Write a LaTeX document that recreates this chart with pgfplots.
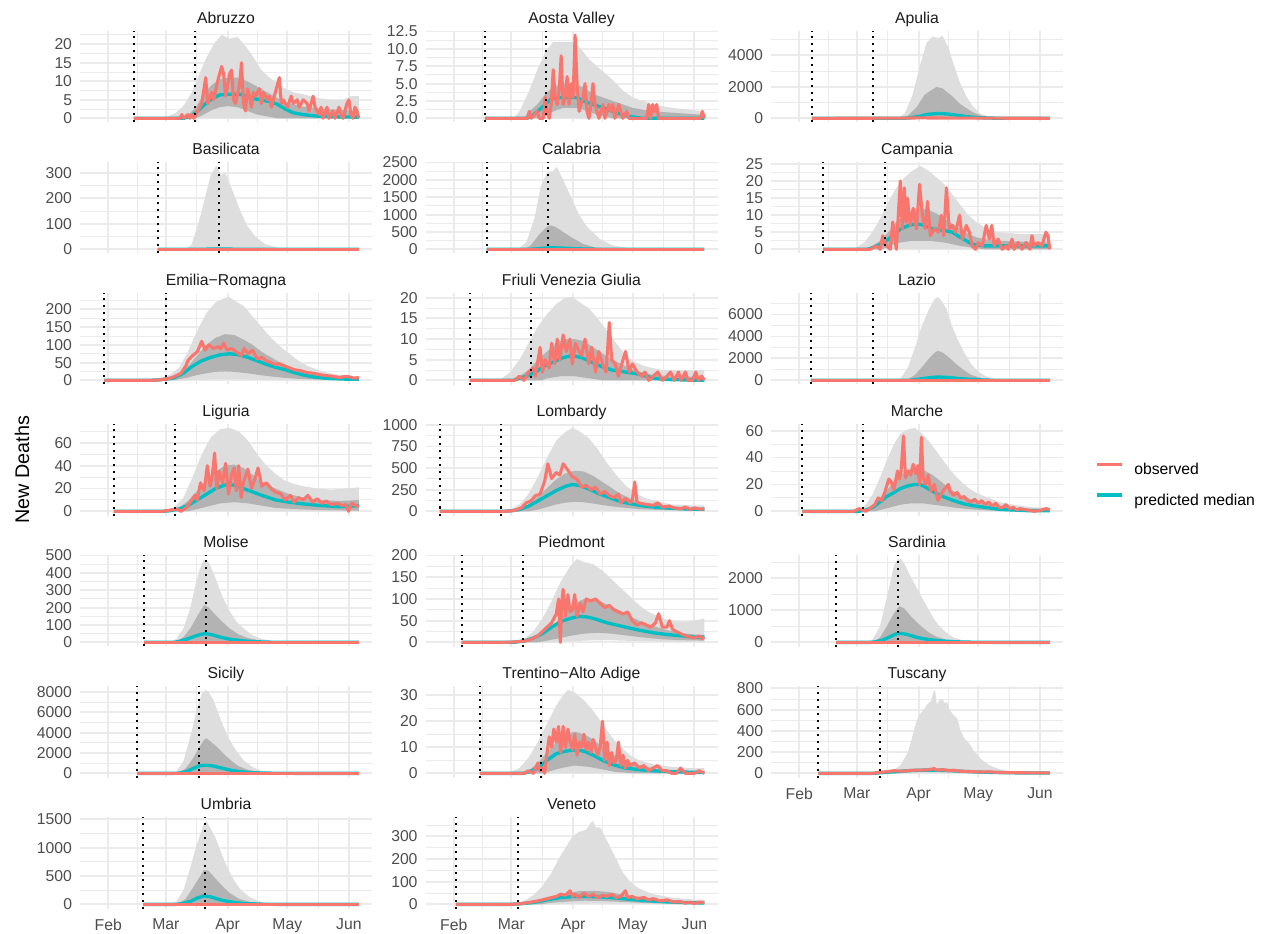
\documentclass[border=0pt]{standalone}
\usepackage{fontspec}
\setmainfont{Liberation Sans}
\usepackage{pgfplots}
\pgfplotsset{compat=1.18}
\usepgfplotslibrary{fillbetween}
\definecolor{obsc}{HTML}{F8766D}
\definecolor{medc}{HTML}{00BFC4}
\definecolor{lightb}{HTML}{DEDEDE}
\definecolor{darkb}{HTML}{B3B3B3}
\definecolor{gridc}{HTML}{EBEBEB}
\definecolor{tickc}{HTML}{4D4D4D}
\definecolor{stripc}{HTML}{1A1A1A}
\newcommand{\tf}{\fontsize{11.8}{14}\selectfont}
\tikzset{
 obsl/.style={color=obsc,line width=2.3pt,line join=round},
 medl/.style={color=medc,line width=2.5pt,line join=round},
 dotl/.style={black,line width=1.5pt,dash pattern=on 1.5pt off 3.75pt},
}
\pgfplotsset{
 every axis title shift=0pt,
 panel/.style={
  scale only axis, width=219pt, height=68.775pt,
  xmin=-14.2, xmax=132.6,
  axis line style={draw=none}, major tick length=0pt, minor tick length=0pt,
  tick style={draw=none},
  xtick={0,29,60,90,121}, minor xtick={14.5,44.5,75,105.5}, xticklabels={},
  grid=both, major grid style={line width=1.4pt,gridc}, minor grid style={line width=0.7pt,gridc},
  yticklabel style={font=\tf,text=tickc,anchor=east,inner sep=0pt,xshift=-5.8pt},
  xticklabel style={font=\tf,text=tickc,anchor=north,inner sep=0pt,yshift=-7.6pt},
  title style={font=\tf,text=stripc,at={(0.5,1)},anchor=base,yshift=5.8pt,inner sep=0pt},
  anchor=north west, clip=true,
 },
 xlab/.style={xticklabels={Feb,Mar,Apr,May,Jun}},
}
\newcommand{\LB}[2]{%
 \addplot[name path=lu,draw=none,forget plot] coordinates {#1};
 \addplot[name path=ll,draw=none,forget plot] coordinates {#2};
 \addplot[fill=lightb,draw=none,forget plot] fill between[of=lu and ll];}
\newcommand{\DB}[2]{%
 \addplot[name path=du,draw=none,forget plot] coordinates {#1};
 \addplot[name path=dl,draw=none,forget plot] coordinates {#2};
 \addplot[fill=darkb,draw=none,forget plot] fill between[of=du and dl];}
\newcommand{\VL}[4]{%
 \addplot[dotl,forget plot] coordinates {(#1,#3)(#1,#4)};
 \addplot[dotl,forget plot] coordinates {(#2,#3)(#2,#4)};}
\newcommand{\MED}[1]{\addplot[medl,forget plot] coordinates {#1};}
\newcommand{\OBS}[1]{\addplot[obsl,forget plot] coordinates {#1};}
\begin{document}
\begin{tikzpicture}
\path (0,0) rectangle (948.75pt,-700.5pt);
% ---------------- Row 1
\begin{axis}[panel, at={(60pt,-23.1pt)}, title={Abruzzo}, ymin=-1.125, ymax=23.625,
 ytick={0,5,10,15,20}, yticklabels={0,5,10,15,20}, minor ytick={2.5,7.5,12.5,17.5,22.5}]
\LB{(12.9,0)(25,0)(30,0.5)(34,1.5)(38,3.5)(42,7)(45,11)(49,16)(53,20)(57,22.5)(61,21.5)(65,22)(69,19.5)(73,16.5)(77,13)(81,11)(85,9.5)(89,8)(93,7)(98,6.5)(105,5.5)(112,5)(118,5)(122,6)(126,6)}{(12.9,0)(126,0)}
\DB{(12.9,0)(36,0)(40,0.8)(44,3)(48,6.5)(52,9)(56,10.5)(60,11)(65,11)(70,10)(75,8.5)(80,7)(85,5.5)(90,4.2)(95,3.5)(100,3)(110,2.5)(126,2)}{(12.9,0)(44,0)(48,1)(52,2.2)(56,3)(60,3.3)(65,3)(70,2)(75,1)(80,0.5)(85,0)(126,0)}
\MED{(12.9,0)(38,0)(41,0.5)(44,1.5)(47,3)(50,4.5)(53,5.5)(56,6.3)(60,6.5)(66,6.5)(70,6)(73,5.3)(77,5)(81,4.5)(85,3.8)(89,2.5)(93,1.5)(98,1)(105,0.6)(115,0.4)(126,0.3)}
\OBS{(12.9,0)(36,0)(37,1)(38,0)(40,1)(41,0)(42,1)(43,0)(45,2)(47,4)(49,11)(50,4)(52,7)(53,5)(55,10)(57,14)(58,12)(59,6)(61,12)(62,13)(63,5)(64,4)(66,9)(67,15)(68,4)(69,2)(70,8)(71,6)(72,3)(73,7)(74,6)(76,8)(77,4)(78,7)(80,5)(81,6)(82,3)(84,7)(86,11)(87,4)(88,5)(90,3)(92,6)(93,4)(95,5)(96,3)(98,5)(100,4)(101,2)(103,6)(104,3)(106,1)(107,3)(108,0)(110,3)(111,0)(113,2)(114,0)(116,3)(117,1)(118,0)(120,4)(121,5)(122,1)(123,0)(124,3)(125,2)(126,0)}
\VL{12.9}{43.6}{-1.125}{23.625}
\end{axis}
\begin{axis}[panel, at={(319.125pt,-23.1pt)}, title={Aosta Valley}, ymin=-0.6, ymax=12.6,
 ytick={0,2.5,5,7.5,10,12.5}, yticklabels={0.0,2.5,5.0,7.5,10.0,12.5}, minor ytick={1.25,3.75,6.25,8.75,11.25}]
\LB{(15.6,0)(30,0)(33,1)(38,4)(42,7)(46,9.5)(50,11)(55,11)(60,11)(64,10)(68,8.5)(72,7.5)(76,6.5)(80,5.5)(85,4)(90,3)(95,2.5)(100,2)(110,1.5)(126,1)}{(15.6,0)(126,0)}
\DB{(15.6,0)(35,0)(38,1)(42,2)(46,3.5)(50,4.5)(55,5)(60,5)(65,4.5)(70,3.5)(75,3)(80,2.5)(90,1.5)(100,1)(126,0.5)}{(15.6,0)(44,0)(47,0.5)(50,1)(55,1.5)(62,1.5)(68,1)(72,0.5)(80,0)(126,0)}
\MED{(15.6,0)(37,0)(40,0.5)(43,1.2)(46,2)(49,2.8)(52,3)(62,3)(65,2.5)(70,2)(75,1.5)(80,1)(85,0.5)(90,0.2)(95,0)(126,0)}
\OBS{(15.6,0)(37,0)(38,1)(39,0)(42,1)(43,0)(45,0)(46,3)(47,1)(48,0)(49,2)(50,7)(51,3)(52,2)(53,4)(54,9)(55,2)(56,3)(57,6)(58,2)(59,5)(60,3)(61,12)(62,5)(63,1)(64,2)(65,3)(66,5)(67,1)(68,0)(69,2)(70,5)(71,2)(72,1)(73,0)(75,2)(76,0)(78,2)(79,1)(80,2)(81,0)(83,2)(84,1)(85,0)(87,1)(88,0)(97,0)(98,2)(99,0)(100,2)(101,1)(102,2)(103,0)(124,0)(125,1)(126,0)}
\VL{15.6}{46.4}{-0.6}{12.6}
\end{axis}
\begin{axis}[panel, at={(578.25pt,-23.1pt)}, title={Apulia}, ymin=-265, ymax=5565,
 ytick={0,2000,4000}, yticklabels={0,2000,4000}, minor ytick={1000,3000,5000}]
\LB{(6.3,0)(49,0)(53,300)(57,1500)(61,3500)(64,4800)(67,5200)(70,5100)(72,5250)(75,4500)(78,3300)(81,2200)(84,1400)(87,800)(91,300)(96,100)(101,0)(126,0)}{(6.3,0)(126,0)}
\DB{(6.3,0)(52,0)(54,100)(59,700)(63,1500)(69,2000)(72,1900)(77,1400)(81,900)(87,400)(93,100)(99,0)(126,0)}{(6.3,0)(60,0)(68,80)(76,50)(90,0)(126,0)}
\MED{(6.3,0)(50,0)(55,20)(60,120)(65,260)(70,310)(75,270)(80,180)(85,100)(90,40)(100,5)(126,0)}
\OBS{(6.3,0)(50,10)(60,25)(70,20)(90,10)(126,2)}
\VL{6.3}{37.3}{-265}{5565}
\end{axis}
% ---------------- Row 2
\begin{axis}[panel, at={(60pt,-121.35pt)}, title={Basilicata}, ymin=-16.35, ymax=343.35,
 ytick={0,100,200,300}, yticklabels={0,100,200,300}, minor ytick={50,150,250}]
\LB{(24.8,0)(39,0)(42,20)(46,120)(49.5,230)(51.5,290)(53.6,320)(54.6,327)(56.7,290)(58.8,300)(61,260)(64,200)(67,140)(70,90)(74,50)(79,20)(85.6,5)(94,0)(126,0)}{(24.8,0)(126,0)}
\DB{(24.8,0)(45,0)(50,3)(55,8)(60,6)(70,2)(80,0)(126,0)}{(24.8,0)(126,0)}
\MED{(24.8,0)(45,0)(52,1)(58,1)(70,0)(126,0)}
\OBS{(24.8,0)(126,0)}
\VL{24.8}{55.8}{-16.35}{343.35}
\end{axis}
\begin{axis}[panel, at={(319.125pt,-121.35pt)}, title={Calabria}, ymin=-120, ymax=2520,
 ytick={0,500,1000,1500,2000,2500}, yticklabels={0,500,1000,1500,2000,2500}, minor ytick={250,750,1250,1750,2250}]
\LB{(16.5,0)(32,0)(36.5,200)(40.6,900)(43.7,1800)(46.8,2200)(49.8,2250)(51.8,2380)(55,2000)(59,1500)(63,1000)(67,650)(73.4,300)(79.6,120)(87.8,30)(93.5,10)(100,0)(126,0)}{(16.5,0)(126,0)}
\DB{(16.5,0)(35,0)(38.5,100)(42.6,400)(46.8,650)(49,690)(51,650)(55,500)(59,350)(65.2,150)(71.4,50)(80,10)(90,0)(126,0)}{(16.5,0)(126,0)}
\MED{(16.5,0)(38,0)(42,15)(46,35)(50,45)(55,35)(62,15)(70,5)(80,0)(126,0)}
\OBS{(16.5,0)(126,0)}
\VL{16.5}{47.3}{-120}{2520}
\end{axis}
\begin{axis}[panel, at={(578.25pt,-121.35pt)}, title={Campania}, ymin=-1.22, ymax=25.62,
 ytick={0,5,10,15,20,25}, yticklabels={0,5,10,15,20,25}, minor ytick={2.5,7.5,12.5,17.5,22.5}]
\LB{(12,0)(25,0)(28.6,0.5)(32.7,2)(36.7,5)(40.7,9)(44.8,14)(48.8,18)(52.8,21)(56.9,23)(60.9,24.4)(65,23)(69,21)(73,19)(77,16)(81,13)(85,10)(89,8)(93,6.5)(97,5.5)(101,5)(111,4.5)(126,4.5)}{(12,0)(126,0)}
\DB{(12,0)(33,0)(36.7,1)(40.7,2.5)(44.8,5)(48.8,8)(52.8,10)(56.9,11.5)(60.9,12)(65,11.5)(69,10.5)(73,9)(77,7.5)(81,6)(85,4.5)(89,3.5)(93,3)(101,2.5)(126,2)}{(12,0)(42,0)(44.8,1)(50.8,2)(56.9,2.5)(65,2.5)(73,2)(81,1)(89,0.3)(93,0)(126,0)}
\MED{(12,0)(34,0)(36,0.3)(39,1)(42.7,2)(47,4)(51,6)(55,7)(59,7.5)(63,7)(67,6)(73,5.5)(77,5)(81,3.5)(87,1.5)(93,1)(126,1)}
\OBS{(12,0)(35.7,0)(38.7,1)(40.7,0)(42,4)(43.8,1)(45.8,0)(47,8)(48.8,0)(49.8,10)(50.8,20)(51.8,6)(52.8,18)(53.8,8)(54.4,15)(55.8,7)(57.3,12)(58.9,6)(60.5,19)(61.9,10)(63.3,6)(64.5,14)(65.9,4)(68,6)(70,5)(71.4,10)(72.6,4)(74,18)(75.4,6)(77,7)(78.6,5)(80.6,10)(82,3)(84,7)(85.5,5)(87,1)(88.7,0)(90,2)(92,1)(94,7)(95.6,3)(96.8,7)(98,1)(100,3)(102,0)(104,1)(105,0)(107,3)(108,0)(110,2)(112,0)(114,2)(116,0)(117,4)(118,1)(120,2)(122,1)(124,5)(125,4)(126,0)}
\VL{12}{43}{-1.22}{25.62}
\end{axis}
% ---------------- Row 3
\begin{axis}[panel, at={(60pt,-219.6pt)}, title={Emilia−Romagna}, ymin=-11.75, ymax=246.75,
 ytick={0,50,100,150,200}, yticklabels={0,50,100,150,200}, minor ytick={25,75,125,175,225}]
\LB{(-1.9,0)(15,0)(21.6,2)(26.2,6)(30.8,15)(35.5,35)(40,80)(44.7,140)(49.4,190)(54,220)(58.6,232)(60.8,235)(63.3,225)(68,210)(72.6,180)(77.2,150)(81.8,120)(86.5,95)(91,75)(95.7,55)(100.4,40)(105,30)(109.6,22)(116.6,15)(121,12)(126,10)}{(-1.9,0)(40,0)(44.7,1)(54,3)(63.3,3)(72.6,2)(84,1)(95.7,0)(126,0)}
\DB{(-1.9,0)(25,0)(30.8,8)(35.5,18)(40,40)(44.7,70)(49.4,100)(54,120)(58.6,130)(63.3,128)(68,115)(72.6,100)(77.2,80)(81.8,65)(86.5,50)(91,40)(95.7,30)(100.4,22)(105,16)(112,11)(121,7)(126,6)}{(-1.9,0)(33,0)(35.5,3)(40,8)(44.7,15)(49.4,20)(54,24)(58.6,25)(63.3,24)(68,21)(72.6,18)(77.2,14)(81.8,11)(88.8,7)(95.7,4)(105,2)(116.6,1)(126,0.5)}
\MED{(-1.9,0)(20,0)(25,1)(28.5,3)(33,7)(37.8,20)(42.4,40)(47,55)(51.7,65)(56.3,72)(61,75)(65.6,72)(70.2,65)(74.9,55)(79.5,45)(84,37)(88.8,30)(93.4,22)(98,15)(102.7,10)(107.3,7)(112,5)(116.6,4)(121,3)(126,3)}
\OBS{(-1.9,0)(21.6,0)(25,1)(28.5,3)(31,6)(33,10)(36.6,20)(39,40)(40,55)(42.4,70)(44.7,80)(47,110)(48.7,85)(50.5,100)(52.9,90)(55.2,95)(56.5,88)(58,105)(59.8,85)(62,90)(64.4,80)(66.8,70)(68.4,90)(70.2,75)(72.6,85)(74.9,60)(77.2,65)(79.5,55)(81.8,50)(84,45)(86,47)(88.8,40)(91,35)(93.4,30)(96,28)(98,25)(100,22)(102.7,20)(105,18)(107.3,15)(110,13)(112,12)(114,10)(116.6,8)(119,11)(121,10)(123.5,6)(126,8)}
\VL{-1.9}{29}{-11.75}{246.75}
\end{axis}
\begin{axis}[panel, at={(319.125pt,-219.6pt)}, title={Friuli Venezia Giulia}, ymin=-1.01, ymax=21.21,
 ytick={0,5,10,15,20}, yticklabels={0,5,10,15,20}, minor ytick={2.5,7.5,12.5,17.5}]
\LB{(8.1,0)(20,0)(23.7,0.3)(28.4,2)(33,5)(37.6,9)(42.3,13)(46.9,16)(51.5,18.5)(56.2,20)(59.6,20.2)(63,19)(67.8,17.5)(72.4,15)(77,12)(81.7,9)(86.4,6)(91,4.5)(95.6,3.5)(100,3)(105,2.5)(126,2.5)}{(8.1,0)(126,0)}
\DB{(8.1,0)(30,0)(33,1)(37.6,2.5)(42.3,5)(46.9,7)(51.5,9)(56.2,10)(60.8,10)(65.5,9.5)(70.1,8)(74.8,6.5)(79.4,5)(84,4)(91,2.5)(98,1.5)(107,1)(126,0.8)}{(8.1,0)(44,0)(46.9,0.5)(53.8,1)(60.8,1)(67.8,0.5)(74.8,0)(126,0)}
\MED{(8.1,0)(30,0)(33,0.5)(36.4,1)(41,2)(45.7,3.5)(50.3,4.5)(55,5.5)(59.6,6)(64.3,5.5)(68.9,4.5)(73.5,3.5)(79.4,2.5)(86.4,2)(93.3,1.5)(100.3,0.5)(107,0.2)(126,0)}
\OBS{(8.1,0)(30.7,0)(33,1)(35.3,0)(37.6,2)(40,3)(41,1)(43.4,8)(44.6,2)(46,5)(48,3)(49.2,9)(50.8,4)(52,10)(53.3,5)(55,11)(56.6,7)(58.4,10)(59.6,4)(61.2,9)(63,7)(64.3,6)(66,10)(67.8,4)(69.4,8)(71.3,2)(72.9,7)(74.8,4)(76.6,2)(78.2,14)(79.4,5)(81.2,4)(82.8,1)(85.1,5)(86.4,7)(88.2,2)(89.8,4)(92.2,2)(94.5,1)(96.1,2)(98,0)(100.3,1)(102.6,2)(104.9,0)(107.2,1)(109,2)(110.8,0)(113,2)(114.2,0)(116.5,2)(117.7,0)(120,0)(121.7,2)(123,0)(124.6,1)(126,0)}
\VL{8.1}{39}{-1.01}{21.21}
\end{axis}
\begin{axis}[panel, at={(578.25pt,-219.6pt)}, title={Lazio}, ymin=-380, ymax=7980,
 ytick={0,2000,4000,6000}, yticklabels={0,2000,4000,6000}, minor ytick={1000,3000,5000,7000}]
\LB{(5.8,0)(47.6,0)(51,200)(54.7,1200)(58.2,3000)(61.7,5000)(65.3,6500)(68,7400)(69.7,7600)(71.4,7300)(74,6500)(76.7,5000)(79.4,3800)(83,2500)(86.4,1500)(90,800)(93.5,400)(98.8,100)(106,0)(126,0)}{(5.8,0)(126,0)}
\DB{(5.8,0)(51,0)(54.7,100)(58.2,500)(61.7,1200)(65.3,2000)(68,2500)(69.7,2700)(72.3,2500)(75.8,2000)(79.4,1400)(83,900)(86.4,500)(91.7,200)(97,50)(104,0)(126,0)}{(5.8,0)(126,0)}
\MED{(5.8,0)(55,0)(58.2,50)(61.7,150)(67,280)(70.5,300)(75.8,250)(81,150)(86.4,80)(93.5,20)(100.5,0)(126,0)}
\OBS{(5.8,0)(126,0)}
\VL{5.8}{37}{-380}{7980}
\end{axis}
% ---------------- Row 4
\begin{axis}[panel, at={(60pt,-317.85pt)}, title={Liguria}, ymin=-3.65, ymax=76.65,
 ytick={0,20,40,60}, yticklabels={0,20,40,60}, minor ytick={10,30,50,70},
 ylabel={New Deaths}, ylabel style={at={(axis description cs:-0.1986,0.5)},anchor=center,font=\fontsize{14.8}{17}\selectfont,text=black}]
\LB{(2.8,0)(24,0)(28.5,0.5)(33,3)(37.8,12)(42.4,30)(47,50)(51.7,65)(56.3,72)(61,73)(65.6,70)(70.2,62)(74.9,50)(79.5,40)(84,33)(88.8,27)(93.4,24)(98,22)(105,20)(112,19)(119,20)(126,21)}{(2.8,0)(126,0)}
\DB{(2.8,0)(31,0)(35.5,3)(40,9)(44.7,18)(49.4,27)(54,35)(58.6,40)(63.3,41)(67.9,38)(72.6,32)(77.2,26)(84,20)(91,15)(98,12)(107.3,10)(116.6,9)(126,10)}{(2.8,0)(40,0)(42.4,1)(49.4,4)(56.3,7)(63.3,8)(70.2,7)(77.2,5)(84,3)(93.4,2)(107.3,1)(126,0.5)}
\MED{(2.8,0)(27,0)(30.8,0.5)(35.5,2)(40,5)(44.7,10)(49.4,15)(54,20)(58.6,23)(63.3,23)(67.9,20)(72.6,17)(77.2,14)(84,10)(91,8)(98,6.5)(107.3,5)(116.6,4)(126,5)}
\OBS{(2.8,0)(27,0)(30.8,1)(34.3,2)(36.6,0)(39,3)(41.3,8)(43.6,14)(44.7,10)(46.4,25)(48.2,18)(49.8,40)(51.2,22)(52.2,30)(53.5,51)(54.5,20)(55.9,35)(57.5,25)(59,42)(60.5,15)(62,32)(63.3,38)(64.4,18)(65.6,40)(66.8,12)(67.9,25)(70.2,37)(72,20)(73.7,28)(75.3,38)(77.2,22)(79.5,25)(81.8,20)(84,17)(87,15)(88.8,10)(91.6,14)(93.4,8)(95.7,12)(98,10)(100.4,14)(102.7,8)(105,11)(107.3,7)(109.6,9)(112,6)(115.4,7)(117.8,5)(119.5,6)(120.8,0)(122.4,7)(124.7,5)(126,4)}
\VL{2.8}{33.8}{-3.65}{76.65}
\end{axis}
\begin{axis}[panel, at={(319.125pt,-317.85pt)}, title={Lombardy}, ymin=-48.25, ymax=1013.25,
 ytick={0,250,500,750,1000}, yticklabels={0,250,500,750,1000}, minor ytick={125,375,625,875}]
\LB{(-7,0)(20,0)(24,5)(28.4,20)(33,80)(37.6,200)(42.3,400)(46.9,620)(51.5,820)(56.2,920)(59.6,965)(63,930)(67.8,850)(72.4,720)(77,560)(81.7,420)(86.4,300)(91,220)(95.6,160)(102.6,110)(109.6,80)(118.8,70)(126,70)}{(-7,0)(45,0)(51.5,5)(60.8,10)(72.4,8)(84,4)(95.6,2)(126,1)}
\DB{(-7,0)(28,0)(33,20)(37.6,80)(42.3,170)(46.9,270)(51.5,370)(56.2,440)(60.8,470)(65.5,460)(70.1,410)(74.8,340)(79.4,270)(84,200)(88.7,150)(95.6,100)(104.9,60)(114.1,40)(126,35)}{(-7,0)(38,0)(42.3,20)(46.9,50)(51.5,80)(56.2,100)(60.8,110)(65.5,105)(70.1,90)(77,65)(84,45)(93.3,25)(104.9,15)(126,10)}
\MED{(-7,0)(24,0)(28.4,5)(33,20)(37.6,60)(42.3,120)(46.9,180)(51.5,240)(56.2,290)(59.6,310)(63,300)(67.8,260)(72.4,210)(77,170)(81.7,130)(86.4,100)(93.3,70)(100.3,50)(109.6,35)(118.8,25)(126,25)}
\OBS{(-7,0)(26,0)(28,5)(30.7,10)(32,25)(34,40)(36.5,100)(38.8,120)(41,180)(43.4,200)(45.7,350)(47.3,550)(49.2,380)(51.5,450)(53.3,420)(55,550)(57.3,480)(59.6,400)(62,370)(64.3,280)(66.6,300)(69,250)(71.3,280)(73.6,200)(75.9,230)(78.2,180)(80.5,160)(82.8,200)(84,100)(86.4,150)(88.7,100)(89.8,130)(91,340)(92.2,100)(94.5,90)(96.8,80)(100.3,70)(102.6,100)(105,50)(108.3,60)(110.7,40)(114,30)(116.5,50)(118.8,20)(121,40)(123.4,25)(126,30)}
\VL{-7}{23.8}{-48.25}{1013.25}
\end{axis}
\begin{axis}[panel, at={(578.25pt,-317.85pt)}, title={Marche}, ymin=-3.1, ymax=65.1,
 ytick={0,20,40,60}, yticklabels={0,20,40,60}, minor ytick={10,30,50},
 legend style={draw=none,fill=none,at={(axis description cs:1.1096,0.324)},anchor=west,
  font=\tf,inner sep=0pt,outer sep=0pt,row sep=11.2pt,column sep=8.2pt,
  nodes={inner sep=0pt,text height=9pt,text depth=2.5pt},cells={anchor=base west}},
 legend cell align=left,
 legend image code/.code={\draw[#1] (0pt,4.5pt) -- (18.75pt,4.5pt);}]
\addlegendimage{obsl}\addlegendentry{observed}
\addlegendimage{medl}\addlegendentry{predicted median}
\LB{(1.6,0)(27,0)(30,1)(33.5,5)(37,13)(40.6,25)(44,38)(47.6,50)(51,58)(54.7,61)(58.2,62)(61.7,58)(65.3,52)(68.8,45)(72.3,38)(75.8,31)(79.4,25)(82.9,20)(86.4,16)(90,13)(93.5,11)(97,9)(100.5,7)(105.8,5.5)(111,4)(118,3)(126,3)}{(1.6,0)(126,0)}
\DB{(1.6,0)(31,0)(35.3,3)(38.8,7)(42.3,13)(45.9,19)(49.4,25)(52.9,29)(56.4,32)(59.9,32)(63.5,30)(67,27)(70.5,23)(74,19)(77.6,15)(81.1,12)(84.7,10)(90,7)(97,5)(105.8,3)(114.6,2)(126,1.5)}{(1.6,0)(38,0)(40.6,1)(45.9,3)(51.1,5)(56.4,6)(61.7,6)(67,5)(72.3,4)(79.4,2.5)(86.4,1.5)(97,0.5)(107.6,0)(126,0)}
\MED{(1.6,0)(30,0)(33.5,1)(37,3)(40.6,7)(44,11)(47.6,14)(51,17)(54.7,19)(58.2,20)(60.8,20)(63.5,18)(67,15)(70.5,12)(74,10)(77.6,8)(82.9,5.5)(88.2,4)(93.5,3)(100.5,1.5)(107.6,1)(114.6,0.5)(126,0.5)}
\OBS{(1.6,0)(27.3,0)(30,2)(31.7,1)(33.5,0)(35.3,2)(38,5)(39.7,10)(41.4,8)(43.2,15)(45,24)(46.2,22)(47.6,16)(49.4,30)(50.3,24)(51.1,28)(52.4,56)(53.4,25)(54.7,30)(56,27)(57.3,35)(58.6,28)(59.6,34)(60.5,20)(61.4,55)(62.3,25)(63.5,20)(64.9,27)(66.1,15)(67.9,20)(69.7,8)(71.4,13)(73.2,17)(75,20)(75.8,15)(77.6,12)(79.4,14)(81.1,10)(82.9,11)(84.7,8)(86.4,7)(88.2,9)(90,6)(91.7,8)(93.5,5)(95.2,7)(97,4)(98.8,6)(100.5,3)(102.3,3)(104,5)(105.8,2)(107.6,3)(109.3,1)(111,2)(114.6,1)(118.2,0)(121.7,1)(124.3,2)(126,1)}
\VL{1.6}{32.3}{-3.1}{65.1}
\end{axis}
% ---------------- Row 5
\begin{axis}[panel, at={(60pt,-416.1pt)}, title={Molise}, ymin=-24, ymax=504,
 ytick={0,100,200,300,400,500}, yticklabels={0,100,200,300,400,500}, minor ytick={50,150,250,350,450}]
\LB{(18,0)(30.8,0)(34.3,20)(37.8,80)(41.3,200)(43.6,320)(45.9,420)(48.2,478)(50.5,460)(52.9,400)(55.2,330)(57.5,260)(61,180)(64.4,120)(68,80)(72.6,40)(77.2,20)(84,5)(91,0)(126,0)}{(18,0)(126,0)}
\DB{(18,0)(32,0)(34.3,5)(37.8,30)(41.3,80)(44.7,150)(48.2,215)(50.5,200)(52.9,170)(56.3,130)(61,80)(65.6,45)(70.2,25)(77.2,8)(84,0)(126,0)}{(18,0)(40,0)(48.2,5)(54,3)(61,0)(126,0)}
\MED{(18,0)(33,0)(35.5,5)(40,20)(44.7,40)(48.2,50)(51.7,45)(56.3,30)(61,18)(68,8)(74.9,3)(84,0)(126,0)}
\OBS{(18,0)(126,0)}
\VL{18}{49.1}{-24}{504}
\end{axis}
\begin{axis}[panel, at={(319.125pt,-416.1pt)}, title={Piedmont}, ymin=-9.6, ymax=201.6,
 ytick={0,50,100,150,200}, yticklabels={0,50,100,150,200}, minor ytick={25,75,125,175}]
\LB{(3.9,0)(26,0)(30.7,2)(35.3,8)(40,25)(44.6,55)(49.2,95)(53.8,140)(58.5,175)(62,192)(65.4,185)(70,180)(74.8,165)(79.4,145)(84,125)(88.7,105)(93.3,85)(98,70)(102.6,60)(107.2,52)(111.8,48)(116.4,47)(121,50)(126,55)}{(3.9,0)(50,0)(53.8,1)(65.5,4)(77,5)(91,3)(107.2,1.5)(126,1)}
\DB{(3.9,0)(33,0)(37.6,5)(42.3,12)(46.9,25)(51.5,45)(56.2,70)(60.8,90)(65.5,100)(70.1,100)(74.8,92)(79.4,82)(84,72)(88.6,60)(93.2,50)(100.2,38)(107.2,28)(114.1,22)(121,18)(126,17)}{(3.9,0)(42,0)(44.6,2)(51.5,8)(58.5,15)(65.5,20)(72.4,22)(79.4,20)(86.4,16)(95.6,11)(104.9,7)(114.1,5)(126,4)}
\MED{(3.9,0)(30,0)(35.3,3)(40,10)(44.6,20)(49.2,35)(53.8,48)(58.5,55)(63,60)(67.6,58)(72.4,52)(77,45)(81.7,40)(86.4,35)(93.3,28)(100.3,22)(107.2,18)(114.1,15)(121,12)(126,12)}
\OBS{(3.9,0)(26,0)(30.7,1)(35.3,3)(37.6,5)(40,10)(42.3,15)(44.6,25)(46.9,35)(49.2,45)(51.5,65)(52.7,100)(53.6,0)(54.3,90)(55,122)(56.2,60)(57.4,110)(58.5,70)(59.7,75)(60.8,110)(62,60)(63.6,90)(65,70)(66.6,100)(68.9,95)(71.3,100)(73.6,90)(75.9,80)(78.2,85)(80.5,75)(82.8,70)(85.1,65)(87.4,70)(89.8,50)(92.1,40)(94.4,45)(96.7,40)(99,35)(101.4,45)(103,66)(104.9,35)(107.2,35)(108.4,50)(110,30)(111.8,25)(114.1,20)(116.4,15)(118.7,12)(121,10)(123.4,15)(124.6,8)(126,12)}
\VL{3.9}{34.9}{-9.6}{201.6}
\end{axis}
\begin{axis}[panel, at={(578.25pt,-416.1pt)}, title={Sardinia}, ymin=-130, ymax=2730,
 ytick={0,1000,2000}, yticklabels={0,1000,2000}, minor ytick={500,1500,2500}]
\LB{(18.7,0)(33.5,0)(37,100)(40.6,500)(44,1400)(45.9,1900)(47.6,2400)(49.4,2580)(51.1,2600)(52.9,2450)(55.6,2100)(58.2,1800)(60.8,1500)(63.5,1200)(67,800)(70.5,500)(74,300)(77.6,150)(83,50)(90,10)(97,0)(126,0)}{(18.7,0)(126,0)}
\DB{(18.7,0)(35,0)(37,20)(40.6,150)(44,500)(47.6,900)(50.3,1130)(52.9,1050)(55.6,850)(58.2,680)(61.7,480)(65.3,300)(68.8,180)(74,80)(79.4,30)(86.4,5)(92,0)(126,0)}{(18.7,0)(42,0)(44,10)(49.4,30)(54.7,25)(61.7,10)(68.8,0)(126,0)}
\MED{(18.7,0)(36,0)(38.8,20)(42.3,80)(45.9,180)(48.5,260)(51.1,280)(54.7,240)(58.2,170)(61.7,120)(67,70)(72.3,40)(79.4,15)(86.4,5)(97,0)(126,0)}
\OBS{(18.7,0)(126,0)}
\VL{18.7}{49.6}{-130}{2730}
\end{axis}
% ---------------- Row 6
\begin{axis}[panel, at={(60pt,-514.35pt)}, title={Sicily}, ymin=-410, ymax=8610,
 ytick={0,2000,4000,6000,8000}, yticklabels={0,2000,4000,6000,8000}, minor ytick={1000,3000,5000,7000}]
\LB{(14.7,0)(30.8,0)(34.3,200)(37.8,1200)(40.1,2800)(42.4,4500)(44.7,6500)(47,7800)(48.9,8200)(50.5,8000)(52.9,7200)(55.2,6000)(57.5,4800)(61,3300)(64.4,2200)(68,1300)(72.6,600)(77.2,250)(84,50)(93.4,0)(126,0)}{(14.7,0)(126,0)}
\DB{(14.7,0)(33,0)(35.5,100)(39,500)(42.4,1400)(45.9,2600)(48.2,3300)(49.4,3450)(51.7,3100)(55.2,2500)(58.6,1800)(62.1,1200)(65.6,700)(70.2,350)(74.9,150)(81.8,30)(88.8,0)(126,0)}{(14.7,0)(40,0)(44.7,50)(49.4,100)(56.3,60)(65.6,10)(72,0)(126,0)}
\MED{(14.7,0)(33,0)(35.5,20)(39,150)(42.4,450)(45.9,750)(49.4,800)(52.9,720)(56.3,550)(61,330)(65.6,180)(70.2,90)(77.2,30)(84,10)(93.4,0)(126,0)}
\OBS{(14.7,0)(126,0)}
\VL{14.7}{45.5}{-410}{8610}
\end{axis}
\begin{axis}[panel, at={(319.125pt,-514.35pt)}, title={Trentino−Alto Adige}, ymin=-1.6, ymax=33.6,
 ytick={0,10,20,30}, yticklabels={0,10,20,30}, minor ytick={5,15,25}]
\LB{(13.1,0)(25,0)(28.4,0.5)(33,2)(37.6,6)(42.3,12)(46.9,19)(51.5,26)(55,30)(57.4,32)(60.8,31)(65.5,28)(70.1,24)(74.8,19)(79.4,14)(84,10)(88.6,7)(93.2,5)(100.2,3.5)(109.5,2.5)(118.8,2)(126,2)}{(13.1,0)(126,0)}
\DB{(13.1,0)(34,0)(37.6,1)(42.3,4)(46.9,8)(51.5,12)(56.2,15)(60.8,16)(65.5,15)(70.1,13)(74.8,10)(79.4,7.5)(84,5.5)(90.9,3.5)(100.2,2)(109.5,1.2)(126,0.8)}{(13.1,0)(44,0)(46.9,0.5)(53.8,2)(60.8,3)(67.8,2.5)(74.8,1.5)(81.7,0.5)(90.9,0)(126,0)}
\MED{(13.1,0)(35,0)(37.6,0.5)(42.3,2)(46.9,5)(51.5,7.5)(56.2,8.5)(60.8,9)(65.5,8.5)(70.1,7)(74.8,5)(79.4,3.5)(86.3,2)(95.6,1.2)(104.8,0.8)(114.1,0.5)(126,0.3)}
\OBS{(13.1,0)(35.3,0)(37.6,1)(40,0)(42.3,4)(43.4,1)(44.6,2)(45.7,0)(46.9,8)(48,14)(49.2,10)(50.3,17)(51.5,12)(52.7,18)(53.8,8)(55,18)(56.2,10)(57.4,17)(58.5,12)(59.7,9)(60.8,15)(62,7)(63.1,12)(64.3,10)(65.5,15)(66.6,9)(67.8,12)(69,8)(70.1,13)(71.3,10)(72.4,7)(73.6,10)(74.8,20)(75.9,5)(77.1,12)(78.2,3)(79.4,8)(80.5,4)(81.7,5)(82.8,12)(84,3)(85.1,7)(86.3,2)(87.4,5)(88.6,3)(90.9,4)(93.2,2)(95.6,3)(97.9,1)(100.2,2)(102.5,3)(104.8,1)(107.2,1)(109.5,0)(111.8,0)(114.1,2)(116.4,0)(121,0)(123.4,1)(126,0)}
\VL{13.1}{43.8}{-1.6}{33.6}
\end{axis}
\begin{axis}[panel, xlab, at={(578.25pt,-514.35pt)}, title={Tuscany}, ymin=-39.25, ymax=824.25,
 ytick={0,200,400,600,800}, yticklabels={0,200,400,600,800}, minor ytick={100,300,500,700}]
\LB{(9.6,0)(35,0)(40,5)(44,15)(47.6,30)(51,80)(54.7,200)(57.3,380)(59.1,500)(60.8,560)(62.6,600)(64.4,650)(66.1,680)(67.4,760)(68.3,785)(69.1,650)(70.5,690)(72,700)(73.2,660)(74.4,670)(75.5,600)(76.7,570)(78,540)(79.4,520)(81.1,400)(82.9,330)(85.5,280)(88.2,200)(91.7,130)(95.2,80)(98.8,50)(102.3,30)(107.6,15)(114.6,10)(126,8)}{(9.6,0)(126,0)}
\DB{(9.6,0)(38,0)(44,5)(51,10)(58.2,35)(65.3,45)(72.3,45)(79.4,35)(86.4,25)(93.5,18)(104,12)(114.6,8)(126,6)}{(9.6,0)(50,0)(58.2,15)(68.8,20)(79.4,12)(90,6)(104,2)(126,1)}
\MED{(9.6,0)(37,0)(40.6,5)(47.6,15)(54.7,25)(61.7,30)(68.8,30)(75.8,25)(82.9,18)(90,12)(100.5,7)(111,4)(126,3)}
\OBS{(9.6,0)(37,0)(40.6,10)(44,15)(47.6,25)(51,20)(54.7,25)(58.2,30)(61.7,30)(65.3,35)(68,45)(68.8,30)(72.3,35)(75,25)(77.6,30)(81,20)(84.7,18)(88.2,15)(91.7,12)(95.2,15)(98.8,10)(104,8)(109.3,6)(114.6,5)(120,4)(126,5)}
\VL{9.6}{40.6}{-39.25}{824.25}
\end{axis}
% ---------------- Row 7
\begin{axis}[panel, xlab, at={(60pt,-612.6pt)}, title={Umbria}, ymin=-73.5, ymax=1543.5,
 ytick={0,500,1000,1500}, yticklabels={0,500,1000,1500}, minor ytick={250,750,1250}]
\LB{(17.6,0)(30.8,0)(34.3,50)(37.8,250)(41.3,650)(43.6,950)(45.9,1200)(48.2,1430)(49.4,1470)(51.7,1320)(54,1170)(56.3,950)(59.8,650)(63.3,420)(66.8,250)(71.4,120)(77.2,40)(84,5)(91,0)(126,0)}{(17.6,0)(126,0)}
\DB{(17.6,0)(32,0)(35.5,20)(39,100)(42.4,280)(45.9,480)(48.2,610)(50.5,590)(54,450)(57.5,320)(61,200)(65.6,100)(71.4,40)(79.5,5)(86,0)(126,0)}{(17.6,0)(40,0)(47,10)(51.7,15)(58.6,5)(65.6,0)(126,0)}
\MED{(17.6,0)(34,0)(36.6,10)(41.3,50)(44.7,110)(48.2,150)(51.7,130)(56.3,80)(61,45)(68,15)(77.2,3)(84,0)(126,0)}
\OBS{(17.6,0)(126,0)}
\VL{17.6}{48.6}{-73.5}{1543.5}
\end{axis}
\begin{axis}[panel, xlab, at={(319.125pt,-612.6pt)}, title={Veneto}, ymin=-18.4, ymax=386.4,
 ytick={0,100,200,300}, yticklabels={0,100,200,300}, minor ytick={50,150,250,350}]
\LB{(1.1,0)(26,0)(30.7,3)(35.3,15)(40,40)(44.6,80)(49.2,140)(52.7,200)(56.2,250)(59.7,300)(63,320)(66.6,330)(68.9,360)(70.1,368)(71.3,340)(73.6,340)(75.9,300)(78.2,260)(81.7,200)(85.1,140)(88.6,100)(93.2,70)(100.2,45)(109.5,30)(118.8,22)(126,20)}{(1.1,0)(50,0)(56.2,2)(70.1,4)(84,3)(107,1)(126,0.5)}
\DB{(1.1,0)(31,0)(35.3,5)(42.3,18)(49.2,35)(56.2,50)(63,58)(70.1,60)(77,55)(84,45)(90.9,35)(100.2,25)(109.5,18)(118.8,13)(126,12)}{(1.1,0)(44,0)(46.9,5)(56.2,12)(65.5,16)(74.8,15)(84,11)(95.6,6)(109.5,3)(126,2)}
\MED{(1.1,0)(28,0)(33,2)(40,8)(46.9,20)(53.8,30)(60.8,35)(67.8,35)(74.8,32)(81.7,28)(88.6,22)(95.6,17)(104.8,12)(114,8)(126,6)}
\OBS{(1.1,0)(28.3,0)(33,2)(37.6,8)(42.3,15)(46.9,25)(49.2,30)(51.5,35)(53.8,45)(56.2,40)(58.5,60)(59.7,35)(60.8,45)(63,30)(65.5,50)(67.8,35)(70.1,45)(72.4,30)(74.8,40)(77,35)(79.4,45)(81.7,30)(84,35)(86.3,60)(87.5,30)(89.8,35)(92.1,25)(95.6,30)(97.9,20)(100.2,25)(103.7,15)(107.2,20)(110.6,10)(114.1,12)(116.4,5)(118.8,10)(121,3)(123.4,10)(126,8)}
\VL{1.1}{32.1}{-18.4}{386.4}
\end{axis}
\end{tikzpicture}
\end{document}
